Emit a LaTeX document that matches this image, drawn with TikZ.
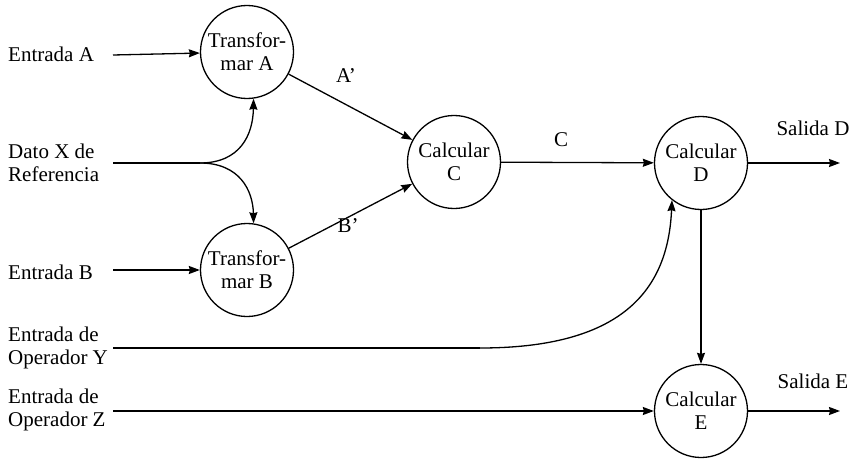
\documentclass[tikz,border=0pt]{standalone}
\usepackage{fontspec}
\setmainfont{Liberation Serif}
\usetikzlibrary{arrows.meta}
\begin{document}
\begin{tikzpicture}[x=1pt,y=-1pt,
  proc/.style={draw,circle,line width=1.3pt,minimum size=93pt,inner sep=0pt,align=center,font=\fontsize{21}{23}\selectfont},
  lbl/.style={anchor=west,align=left,inner sep=0pt,font=\fontsize{21}{23}\selectfont},
  tag/.style={inner sep=0pt,font=\fontsize{21}{23}\selectfont},
  flow/.style={line width=1.3pt,-{Stealth[length=11pt,width=8pt,inset=1pt]}},
  plain/.style={line width=1.3pt}]
\useasboundingbox (0,0) rectangle (856,460);
% processes
\node[proc] (tA) at (247,52) {Transfor-\\mar A};
\node[proc] (tB) at (247,270) {Transfor-\\mar B};
\node[proc] (cC) at (454,162) {Calcular\\C};
\node[proc] (cD) at (701,163) {Calcular\\D};
\node[proc] (cE) at (701,411) {Calcular\\E};
% input labels
\node[lbl] (eA) at (8,54) {Entrada A};
\node[lbl] (dX) at (8,163) {Dato X de\\Referencia};
\node[lbl] (eB) at (8,272) {Entrada B};
\node[lbl] (eY) at (8,348) {Entrada de\\Operador Y};
\node[lbl] (eZ) at (8,410) {Entrada de\\Operador Z};
% output labels
\node[tag] (sD) at (813,128) {Salida D};
\node[tag] (sE) at (813,381) {Salida E};
% flow labels
\node[tag] (lA) at (346,76) {A’};
\node[tag] (lB) at (348,226) {B’};
\node[tag] (lC) at (561,140) {C};
% coordinates
\coordinate (pA) at (113,55);
\coordinate (pX) at (113,163);
\coordinate (jX) at (200,163);
\coordinate (pB) at (113,270);
\coordinate (pY) at (113,348);
\coordinate (jY) at (480,348);
\coordinate (pZ) at (113,411);
\coordinate (oD) at (840,163);
\coordinate (oE) at (840,411);
% connectors
\draw[flow] (pA) -- (tA);
\draw[flow] (pB) -- (tB);
\draw[plain] (pX) -- (jX);
\draw[flow] (jX) .. controls (240,163) and (253,135) .. (tA.-82);
\draw[flow] (jX) .. controls (240,163) and (253,191) .. (tB.82);
\draw[flow] (tA) -- (cC);
\draw[flow] (tB) -- (cC);
\draw[flow] (cC) -- (cD);
\draw[flow] (cD) -- (oD);
\draw[flow] (cD) -- (cE);
\draw[flow] (cE) -- (oE);
\draw[plain] (pY) -- (jY);
\draw[flow] (jY) .. controls (620,348) and (668,292) .. (cD.232);
\draw[flow] (pZ) -- (cE);
\end{tikzpicture}
\end{document}
